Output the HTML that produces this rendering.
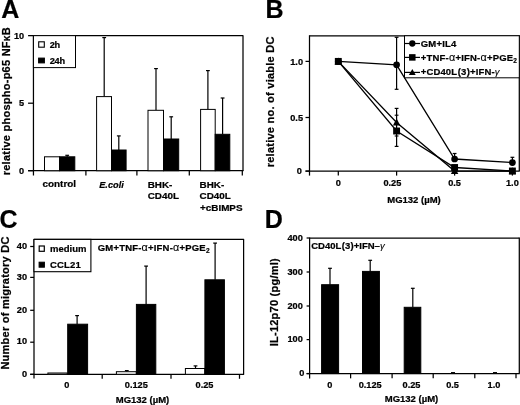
<!DOCTYPE html>
<html><head><meta charset="utf-8"><title>Figure</title>
<style>
html,body{margin:0;padding:0;background:#fff;}
body{width:520px;height:405px;overflow:hidden;}
svg{display:block;filter:grayscale(1);}
text{font-family:"Liberation Sans",sans-serif;font-weight:bold;fill:#000;stroke:#000;stroke-width:0.22px;}
.g{font-weight:normal;stroke-width:0.1px;}
</style></head><body>
<svg width="520" height="405" viewBox="0 0 520 405">
<rect x="0" y="0" width="520" height="405" fill="#fff"/>
<line x1="33.45" y1="35.65" x2="243.0" y2="35.65" stroke="#000" stroke-width="1.25" />
<line x1="243.0" y1="35.15" x2="243.0" y2="170.7" stroke="#000" stroke-width="1.25" />
<line x1="33.45" y1="35.15" x2="33.45" y2="175.5" stroke="#000" stroke-width="1.25" />
<line x1="28.150000000000002" y1="170.7" x2="243.5" y2="170.7" stroke="#000" stroke-width="1.25" />
<line x1="28.050000000000004" y1="35.65" x2="33.45" y2="35.65" stroke="#000" stroke-width="1.25" />
<text x="24.150000000000002" y="38.75" font-size="9.2" text-anchor="end" >10</text>
<line x1="28.050000000000004" y1="103.2" x2="33.45" y2="103.2" stroke="#000" stroke-width="1.25" />
<text x="24.150000000000002" y="106.3" font-size="9.2" text-anchor="end" >5</text>
<line x1="28.050000000000004" y1="170.7" x2="33.45" y2="170.7" stroke="#000" stroke-width="1.25" />
<text x="24.150000000000002" y="173.79999999999998" font-size="9.2" text-anchor="end" >0</text>
<line x1="85.9" y1="170.7" x2="85.9" y2="175.5" stroke="#000" stroke-width="1.25" />
<line x1="136.9" y1="170.7" x2="136.9" y2="175.5" stroke="#000" stroke-width="1.25" />
<line x1="189.3" y1="170.7" x2="189.3" y2="175.5" stroke="#000" stroke-width="1.25" />
<line x1="242.3" y1="170.7" x2="242.3" y2="175.5" stroke="#000" stroke-width="1.25" />
<rect x="44.50" y="156.80" width="15.10" height="13.90" fill="#fff" stroke="#000" stroke-width="1.0"/>
<line x1="67.2" y1="155.3" x2="67.2" y2="156.8" stroke="#000" stroke-width="1.2" />
<line x1="65.3" y1="155.3" x2="69.10000000000001" y2="155.3" stroke="#000" stroke-width="1.2" />
<rect x="59.60" y="156.80" width="15.20" height="13.90" fill="#000" stroke="#000" stroke-width="1.0"/>
<line x1="104.2" y1="37.6" x2="104.2" y2="96.6" stroke="#000" stroke-width="1.2" />
<line x1="102.3" y1="37.6" x2="106.10000000000001" y2="37.6" stroke="#000" stroke-width="1.2" />
<rect x="96.60" y="96.60" width="14.90" height="74.10" fill="#fff" stroke="#000" stroke-width="1.0"/>
<line x1="118.8" y1="135.9" x2="118.8" y2="150.0" stroke="#000" stroke-width="1.2" />
<line x1="116.89999999999999" y1="135.9" x2="120.7" y2="135.9" stroke="#000" stroke-width="1.2" />
<rect x="111.50" y="150.00" width="14.60" height="20.70" fill="#000" stroke="#000" stroke-width="1.0"/>
<line x1="156.0" y1="68.6" x2="156.0" y2="110.3" stroke="#000" stroke-width="1.2" />
<line x1="154.1" y1="68.6" x2="157.9" y2="68.6" stroke="#000" stroke-width="1.2" />
<rect x="148.00" y="110.30" width="15.50" height="60.40" fill="#fff" stroke="#000" stroke-width="1.0"/>
<line x1="171.2" y1="116.8" x2="171.2" y2="139.0" stroke="#000" stroke-width="1.2" />
<line x1="169.29999999999998" y1="116.8" x2="173.1" y2="116.8" stroke="#000" stroke-width="1.2" />
<rect x="163.50" y="139.00" width="15.20" height="31.70" fill="#000" stroke="#000" stroke-width="1.0"/>
<line x1="207.9" y1="70.6" x2="207.9" y2="109.4" stroke="#000" stroke-width="1.2" />
<line x1="206.0" y1="70.6" x2="209.8" y2="70.6" stroke="#000" stroke-width="1.2" />
<rect x="200.60" y="109.40" width="14.60" height="61.30" fill="#fff" stroke="#000" stroke-width="1.0"/>
<line x1="222.6" y1="98.0" x2="222.6" y2="134.3" stroke="#000" stroke-width="1.2" />
<line x1="220.7" y1="98.0" x2="224.5" y2="98.0" stroke="#000" stroke-width="1.2" />
<rect x="215.20" y="134.30" width="14.60" height="36.40" fill="#000" stroke="#000" stroke-width="1.0"/>
<rect x="33.45" y="35.65" width="42.05" height="31.95" fill="#fff" stroke="#000" stroke-width="1.0"/>
<rect x="38.70" y="41.80" width="5.60" height="5.40" fill="#fff" stroke="#000" stroke-width="1.1"/>
<rect x="38.60" y="58.10" width="5.80" height="4.80" fill="#000" stroke="#000" stroke-width="1.0"/>
<text x="49.8" y="48.0" font-size="9.2" text-anchor="start" letter-spacing="-0.3">2h</text>
<text x="49.8" y="64.2" font-size="9.2" text-anchor="start" letter-spacing="-0.3">24h</text>
<text x="1.2" y="18.2" font-size="25" text-anchor="start" >A</text>
<text x="9.8" y="175.3" font-size="11.0" text-anchor="start" transform="rotate(-90 9.8 175.3)" letter-spacing="0.25" >relative phospho-p65 NF<tspan font-size="10">&#954;</tspan>B</text>
<text x="59.3" y="187.3" font-size="9.9" text-anchor="middle" >control</text>
<text x="111.5" y="187.6" font-size="9.2" text-anchor="middle" font-style="italic">E.coli</text>
<text x="147.7" y="187.5" font-size="9.9" text-anchor="start" >BHK-</text>
<text x="147.7" y="199.0" font-size="9.9" text-anchor="start" >CD40L</text>
<text x="199.5" y="187.5" font-size="9.9" text-anchor="start" >BHK-</text>
<text x="199.5" y="199.0" font-size="9.9" text-anchor="start" >CD40L</text>
<text x="200.0" y="211.3" font-size="9.9" text-anchor="start" >+cBIMPS</text>
<line x1="309.5" y1="35.75" x2="519.3" y2="35.75" stroke="#000" stroke-width="1.25" />
<line x1="519.3" y1="35.25" x2="519.3" y2="171.1" stroke="#000" stroke-width="1.25" />
<line x1="309.5" y1="35.25" x2="309.5" y2="175.6" stroke="#000" stroke-width="1.25" />
<line x1="305.5" y1="171.1" x2="519.8" y2="171.1" stroke="#000" stroke-width="1.25" />
<line x1="305.5" y1="61.4" x2="309.5" y2="61.4" stroke="#000" stroke-width="1.25" />
<text x="303.0" y="64.5" font-size="9.2" text-anchor="end" >1.0</text>
<line x1="305.5" y1="117.5" x2="309.5" y2="117.5" stroke="#000" stroke-width="1.25" />
<text x="303.0" y="120.6" font-size="9.2" text-anchor="end" >0.5</text>
<line x1="305.5" y1="171.1" x2="309.5" y2="171.1" stroke="#000" stroke-width="1.25" />
<text x="301.9" y="174.2" font-size="9.2" text-anchor="end" >0</text>
<line x1="338.3" y1="171.1" x2="338.3" y2="175.6" stroke="#000" stroke-width="1.25" />
<text x="338.3" y="185.7" font-size="9.2" text-anchor="middle" >0</text>
<line x1="396.6" y1="171.1" x2="396.6" y2="175.6" stroke="#000" stroke-width="1.25" />
<text x="392.40000000000003" y="185.7" font-size="9.2" text-anchor="middle" >0.25</text>
<line x1="454.6" y1="171.1" x2="454.6" y2="175.6" stroke="#000" stroke-width="1.25" />
<text x="454.6" y="185.7" font-size="9.2" text-anchor="middle" >0.5</text>
<line x1="512.4" y1="171.1" x2="512.4" y2="175.6" stroke="#000" stroke-width="1.25" />
<text x="512.4" y="185.7" font-size="9.2" text-anchor="middle" >1.0</text>
<text x="414" y="203.0" font-size="9.5" text-anchor="middle" >MG132 (&#181;M)</text>
<text x="274.0" y="167.3" font-size="11.0" text-anchor="start" transform="rotate(-90 274.0 167.3)" letter-spacing="0.25" >relative no. of viable DC</text>
<text x="265.4" y="18.0" font-size="25" text-anchor="start" >B</text>
<line x1="396.6" y1="37.3" x2="396.6" y2="89.3" stroke="#000" stroke-width="1.2" />
<line x1="394.70000000000005" y1="37.3" x2="398.5" y2="37.3" stroke="#000" stroke-width="1.2" />
<line x1="394.70000000000005" y1="89.3" x2="398.5" y2="89.3" stroke="#000" stroke-width="1.2" />
<line x1="396.6" y1="108.4" x2="396.6" y2="146.4" stroke="#000" stroke-width="1.2" />
<line x1="394.70000000000005" y1="108.4" x2="398.5" y2="108.4" stroke="#000" stroke-width="1.2" />
<line x1="394.70000000000005" y1="146.4" x2="398.5" y2="146.4" stroke="#000" stroke-width="1.2" />
<line x1="394.70000000000005" y1="115.2" x2="398.5" y2="115.2" stroke="#000" stroke-width="1.1" />
<line x1="394.70000000000005" y1="136.0" x2="398.5" y2="136.0" stroke="#000" stroke-width="1.1" />
<line x1="454.6" y1="153.5" x2="454.6" y2="159.0" stroke="#000" stroke-width="1.2" />
<line x1="452.70000000000005" y1="153.5" x2="456.5" y2="153.5" stroke="#000" stroke-width="1.2" />
<line x1="512.4" y1="157.3" x2="512.4" y2="162.3" stroke="#000" stroke-width="1.2" />
<line x1="510.5" y1="157.3" x2="514.3" y2="157.3" stroke="#000" stroke-width="1.2" />
<polyline points="338.3,61.4 396.6,64.8 454.6,159.0 512.4,162.6" fill="none" stroke="#000" stroke-width="1.3"/>
<polyline points="338.3,61.4 396.6,131.0 454.6,167.5 512.4,171.0" fill="none" stroke="#000" stroke-width="1.3"/>
<polyline points="338.3,61.4 396.6,122.4 454.6,171.0 512.4,171.2" fill="none" stroke="#000" stroke-width="1.3"/>
<circle cx="338.3" cy="61.4" r="3.35" fill="#000"/>
<circle cx="396.6" cy="64.8" r="3.35" fill="#000"/>
<circle cx="454.6" cy="159.0" r="3.35" fill="#000"/>
<circle cx="512.4" cy="162.6" r="3.35" fill="#000"/>
<polygon points="338.3,57.4 342.0,64.4 334.6,64.4" fill="#000"/>
<polygon points="396.6,118.4 400.3,125.4 392.90000000000003,125.4" fill="#000"/>
<polygon points="454.6,167.0 458.3,174.0 450.90000000000003,174.0" fill="#000"/>
<polygon points="512.4,167.2 516.1,174.2 508.7,174.2" fill="#000"/>
<rect x="334.85" y="57.949999999999996" width="6.9" height="6.9" fill="#000"/>
<rect x="393.15000000000003" y="127.55" width="6.9" height="6.9" fill="#000"/>
<rect x="451.15000000000003" y="164.05" width="6.9" height="6.9" fill="#000"/>
<rect x="508.95" y="167.55" width="6.9" height="6.9" fill="#000"/>
<rect x="404.50" y="35.75" width="114.80" height="42.05" fill="#fff" stroke="#000" stroke-width="1.0"/>
<line x1="405.0" y1="43.5" x2="420.0" y2="43.5" stroke="#000" stroke-width="1.2" />
<circle cx="412.3" cy="43.5" r="3.15" fill="#000"/>
<text x="420.8" y="46.8" font-size="9.5" text-anchor="start" letter-spacing="0.17">GM+IL4</text>
<line x1="405.0" y1="57.4" x2="420.0" y2="57.4" stroke="#000" stroke-width="1.2" />
<rect x="409.05" y="54.15" width="6.5" height="6.5" fill="#000"/>
<text x="420.8" y="60.699999999999996" font-size="9.5" text-anchor="start" letter-spacing="0.2">+TNF-<tspan class="g" font-size="10.8">&#945;</tspan>+IFN-<tspan class="g" font-size="10.8">&#945;</tspan>+PGE<tspan font-size="6.5" dy="2">2</tspan></text>
<line x1="405.0" y1="72.4" x2="420.0" y2="72.4" stroke="#000" stroke-width="1.2" />
<polygon points="412.3,69.10000000000001 415.7,75.10000000000001 408.90000000000003,75.10000000000001" fill="#000"/>
<text x="420.8" y="75.39999999999999" font-size="9.5" text-anchor="start" letter-spacing="0.13">+CD40L<tspan dx="0.5">(</tspan>3<tspan dx="0.3">)</tspan>+IFN-<tspan class="g" font-size="9.5" font-style="italic">&#947;</tspan></text>
<line x1="34.0" y1="239.4" x2="243.6" y2="239.4" stroke="#000" stroke-width="1.25" />
<line x1="243.6" y1="238.9" x2="243.6" y2="374.3" stroke="#000" stroke-width="1.25" />
<line x1="34.0" y1="238.9" x2="34.0" y2="378.6" stroke="#000" stroke-width="1.25" />
<line x1="30.2" y1="374.3" x2="244.1" y2="374.3" stroke="#000" stroke-width="1.25" />
<line x1="30.2" y1="246.5" x2="34.0" y2="246.5" stroke="#000" stroke-width="1.25" />
<text x="27.1" y="248.7" font-size="9.2" text-anchor="end" >40</text>
<line x1="30.2" y1="277.4" x2="34.0" y2="277.4" stroke="#000" stroke-width="1.25" />
<text x="27.1" y="279.59999999999997" font-size="9.2" text-anchor="end" >30</text>
<line x1="30.2" y1="310.3" x2="34.0" y2="310.3" stroke="#000" stroke-width="1.25" />
<text x="27.1" y="312.5" font-size="9.2" text-anchor="end" >20</text>
<line x1="30.2" y1="342.2" x2="34.0" y2="342.2" stroke="#000" stroke-width="1.25" />
<text x="27.1" y="344.4" font-size="9.2" text-anchor="end" >10</text>
<line x1="30.2" y1="374.3" x2="34.0" y2="374.3" stroke="#000" stroke-width="1.25" />
<text x="27.1" y="376.5" font-size="9.2" text-anchor="end" >0</text>
<line x1="102.2" y1="374.3" x2="102.2" y2="378.8" stroke="#000" stroke-width="1.25" />
<line x1="171.0" y1="374.3" x2="171.0" y2="378.8" stroke="#000" stroke-width="1.25" />
<line x1="239.5" y1="374.3" x2="239.5" y2="378.8" stroke="#000" stroke-width="1.25" />
<rect x="47.90" y="373.00" width="19.30" height="1.30" fill="#fff" stroke="#000" stroke-width="1.0"/>
<line x1="77.1" y1="315.6" x2="77.1" y2="324.2" stroke="#000" stroke-width="1.2" />
<line x1="75.19999999999999" y1="315.6" x2="79.0" y2="315.6" stroke="#000" stroke-width="1.2" />
<rect x="67.70" y="324.20" width="19.90" height="50.10" fill="#000" stroke="#000" stroke-width="1.0"/>
<line x1="126.8" y1="370.6" x2="126.8" y2="371.7" stroke="#000" stroke-width="1.2" />
<line x1="124.89999999999999" y1="370.6" x2="128.7" y2="370.6" stroke="#000" stroke-width="1.2" />
<rect x="116.40" y="371.70" width="19.90" height="2.60" fill="#fff" stroke="#000" stroke-width="1.0"/>
<line x1="146.1" y1="266.1" x2="146.1" y2="304.4" stroke="#000" stroke-width="1.2" />
<line x1="144.2" y1="266.1" x2="148.0" y2="266.1" stroke="#000" stroke-width="1.2" />
<rect x="136.40" y="304.40" width="19.40" height="69.90" fill="#000" stroke="#000" stroke-width="1.0"/>
<line x1="195.5" y1="365.9" x2="195.5" y2="368.5" stroke="#000" stroke-width="1.2" />
<line x1="193.6" y1="365.9" x2="197.4" y2="365.9" stroke="#000" stroke-width="1.2" />
<rect x="185.40" y="368.50" width="19.40" height="5.80" fill="#fff" stroke="#000" stroke-width="1.0"/>
<line x1="215.1" y1="243.1" x2="215.1" y2="279.8" stroke="#000" stroke-width="1.2" />
<line x1="213.2" y1="243.1" x2="217.0" y2="243.1" stroke="#000" stroke-width="1.2" />
<rect x="204.90" y="279.80" width="19.50" height="94.50" fill="#000" stroke="#000" stroke-width="1.0"/>
<rect x="34.00" y="239.40" width="56.90" height="32.30" fill="#fff" stroke="#000" stroke-width="1.1"/>
<rect x="39.20" y="246.00" width="5.10" height="5.30" fill="#fff" stroke="#000" stroke-width="1.2"/>
<rect x="39.10" y="262.20" width="5.30" height="5.00" fill="#000" stroke="#000" stroke-width="1.0"/>
<text x="50.0" y="251.7" font-size="9.5" text-anchor="start" >medium</text>
<text x="50.0" y="268.2" font-size="9.5" text-anchor="start" letter-spacing="0.2">CCL21</text>
<text x="97.7" y="250.6" font-size="9.5" text-anchor="start" letter-spacing="0.2">GM+TNF-<tspan class="g" font-size="10.8">&#945;</tspan>+IFN-<tspan class="g" font-size="10.8">&#945;</tspan>+PGE<tspan font-size="6.5" dy="2">2</tspan></text>
<text x="-0.4" y="227.9" font-size="25" text-anchor="start" >C</text>
<text x="8.6" y="369.6" font-size="11.0" text-anchor="start" transform="rotate(-90 8.6 369.6)" letter-spacing="0.25" >Number of migratory DC</text>
<text x="66.8" y="388.3" font-size="9.2" text-anchor="middle" >0</text>
<text x="136.3" y="388.3" font-size="9.2" text-anchor="middle" >0.125</text>
<text x="204.5" y="388.3" font-size="9.2" text-anchor="middle" >0.25</text>
<text x="142.5" y="402.6" font-size="9.5" text-anchor="middle" >MG132 (&#181;M)</text>
<line x1="309.6" y1="238.0" x2="519.3" y2="238.0" stroke="#000" stroke-width="1.25" />
<line x1="519.3" y1="237.5" x2="519.3" y2="373.55" stroke="#000" stroke-width="1.25" />
<line x1="309.6" y1="237.5" x2="309.6" y2="378.55" stroke="#000" stroke-width="1.25" />
<line x1="306.6" y1="373.55" x2="519.8" y2="373.55" stroke="#000" stroke-width="1.25" />
<line x1="306.6" y1="238.0" x2="309.6" y2="238.0" stroke="#000" stroke-width="1.25" />
<text x="302.8" y="240.5" font-size="9.2" text-anchor="end" >400</text>
<line x1="306.6" y1="272.0" x2="309.6" y2="272.0" stroke="#000" stroke-width="1.25" />
<text x="302.8" y="274.5" font-size="9.2" text-anchor="end" >300</text>
<line x1="306.6" y1="306.0" x2="309.6" y2="306.0" stroke="#000" stroke-width="1.25" />
<text x="302.8" y="308.5" font-size="9.2" text-anchor="end" >200</text>
<line x1="306.6" y1="339.6" x2="309.6" y2="339.6" stroke="#000" stroke-width="1.25" />
<text x="302.8" y="342.1" font-size="9.2" text-anchor="end" >100</text>
<line x1="306.6" y1="373.55" x2="309.6" y2="373.55" stroke="#000" stroke-width="1.25" />
<text x="304.3" y="376.05" font-size="9.2" text-anchor="end" >0</text>
<line x1="350.6" y1="373.55" x2="350.6" y2="378.35" stroke="#000" stroke-width="1.25" />
<line x1="392.1" y1="373.55" x2="392.1" y2="378.35" stroke="#000" stroke-width="1.25" />
<line x1="433.2" y1="373.55" x2="433.2" y2="378.35" stroke="#000" stroke-width="1.25" />
<line x1="474.8" y1="373.55" x2="474.8" y2="378.35" stroke="#000" stroke-width="1.25" />
<line x1="516.0" y1="373.55" x2="516.0" y2="378.35" stroke="#000" stroke-width="1.25" />
<line x1="330.0" y1="268.3" x2="330.0" y2="284.7" stroke="#000" stroke-width="1.2" />
<line x1="328.1" y1="268.3" x2="331.9" y2="268.3" stroke="#000" stroke-width="1.2" />
<rect x="321.60" y="284.70" width="17.00" height="88.85" fill="#000" stroke="#000" stroke-width="1.0"/>
<line x1="370.2" y1="260.3" x2="370.2" y2="271.4" stroke="#000" stroke-width="1.2" />
<line x1="368.3" y1="260.3" x2="372.09999999999997" y2="260.3" stroke="#000" stroke-width="1.2" />
<rect x="362.50" y="271.40" width="16.90" height="102.15" fill="#000" stroke="#000" stroke-width="1.0"/>
<line x1="412.8" y1="288.3" x2="412.8" y2="307.3" stroke="#000" stroke-width="1.2" />
<line x1="410.90000000000003" y1="288.3" x2="414.7" y2="288.3" stroke="#000" stroke-width="1.2" />
<rect x="404.20" y="307.30" width="16.60" height="66.25" fill="#000" stroke="#000" stroke-width="1.0"/>
<line x1="451" y1="372.65000000000003" x2="455" y2="372.65000000000003" stroke="#000" stroke-width="1.2" />
<line x1="493" y1="372.65000000000003" x2="497" y2="372.65000000000003" stroke="#000" stroke-width="1.2" />
<text x="311.2" y="249.1" font-size="9.5" text-anchor="start" letter-spacing="0">CD40L<tspan dx="0.5">(</tspan>3<tspan dx="0.3">)</tspan>+IFN&#8211;<tspan class="g" font-size="9.5" font-style="italic">&#947;</tspan></text>
<text x="264.8" y="228.0" font-size="25" text-anchor="start" >D</text>
<text x="278.2" y="346.3" font-size="11.0" text-anchor="start" transform="rotate(-90 278.2 346.3)" letter-spacing="0.25" >IL-12p70 (pg/ml)</text>
<text x="329.8" y="387.8" font-size="9.2" text-anchor="middle" >0</text>
<text x="370.2" y="387.8" font-size="9.2" text-anchor="middle" >0.125</text>
<text x="411.5" y="387.8" font-size="9.2" text-anchor="middle" >0.25</text>
<text x="452.6" y="387.8" font-size="9.2" text-anchor="middle" >0.5</text>
<text x="494.0" y="387.8" font-size="9.2" text-anchor="middle" >1.0</text>
<text x="411.5" y="402.4" font-size="9.5" text-anchor="middle" >MG132 (&#181;M)</text>
</svg>
</body></html>
